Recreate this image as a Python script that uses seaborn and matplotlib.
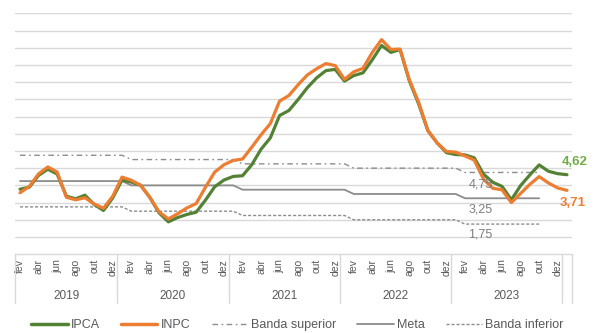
import numpy as np
import pandas as pd
import matplotlib
matplotlib.use("Agg")
import matplotlib.pyplot as plt
import matplotlib.transforms as mtransforms
from matplotlib.lines import Line2D
import seaborn as sns

# IPCA and INPC, 12-month accumulated change (%), monthly points
ipca = [3.78, 3.89, 4.58, 4.94, 4.66, 3.37, 3.22, 3.43, 2.89, 2.54, 3.27, 4.31,
        4.19, 4.01, 3.30, 2.40, 1.88, 2.13, 2.31, 2.44, 3.14, 3.92, 4.31, 4.52,
        4.56, 5.20, 6.10, 6.76, 8.06, 8.35, 8.99, 9.68, 10.25, 10.67, 10.74, 10.06,
        10.38, 10.54, 11.30, 12.13, 11.73, 11.89, 10.07, 8.73, 7.17, 6.47, 5.90, 5.79,
        5.77, 5.60, 4.65, 4.18, 3.94, 3.16, 3.99, 4.61, 5.19, 4.82, 4.68, 4.62]
inpc = [3.57, 3.94, 4.67, 5.07, 4.78, 3.31, 3.16, 3.28, 2.92, 2.67, 3.37, 4.48,
        4.30, 4.01, 3.31, 2.46, 2.05, 2.35, 2.69, 2.94, 3.89, 4.77, 5.20, 5.45,
        5.53, 6.22, 6.94, 7.59, 8.90, 9.22, 9.85, 10.42, 10.78, 11.08, 10.96, 10.16,
        10.60, 10.80, 11.73, 12.47, 11.90, 11.92, 10.12, 8.83, 7.19, 6.46, 5.97, 5.93,
        5.71, 5.47, 4.36, 3.83, 3.74, 3.00, 3.53, 4.06, 4.51, 4.14, 3.85, 3.71]

# inflation target and tolerance bands by year
meta_anual = [4.25, 4.00, 3.75, 3.50, 3.25]
banda_sup_anual = [5.75, 5.50, 5.25, 5.00, 4.75]
banda_inf_anual = [2.75, 2.50, 2.25, 2.00, 1.75]
meses_meta = [12, 12, 12, 12, 9]

# category axis: month names and year groups
meses = ["jan", "fev", "mar", "abr", "mai", "jun",
         "jul", "ago", "set", "out", "nov", "dez"]
rotulos = [meses[(i + 1) % 12] for i in range(len(ipca))]
anos = ["2019", "2020", "2021", "2022", "2023", ""]
meses_por_grupo = [11, 12, 12, 12, 12, 1]

VERDE = "#548235"
VERDE_CLARO = "#70AD47"
LARANJA = "#ED7D31"
CINZA = "#8C8C8C"
CINZA_TXT = "#595959"
GRADE = "#D9D9D9"

sns.set_theme(style="white")
plt.rcParams["font.family"] = ["Liberation Sans", "DejaVu Sans"]

n = len(ipca)
df = pd.DataFrame({"idx": np.arange(n), "IPCA": ipca, "INPC": inpc})
n_meta = sum(meses_meta)
dm = pd.DataFrame({
    "idx": np.arange(n_meta),
    "Meta": np.repeat(meta_anual, meses_meta),
    "Sup": np.repeat(banda_sup_anual, meses_meta),
    "Inf": np.repeat(banda_inf_anual, meses_meta),
})

fig = plt.figure(figsize=(5.95, 3.33), dpi=100)
ax = fig.add_axes([15.4 / 595, 1 - 254.2 / 333, 556.2 / 595, 240.9 / 333])

ls_sup = (0, (4, 2.5, 1.2, 2.5))
ls_inf = (0, (2.2, 1.4))

sns.lineplot(data=dm, x="idx", y="Sup", ax=ax, color=CINZA, lw=1.0, linestyle=ls_sup)
sns.lineplot(data=dm, x="idx", y="Inf", ax=ax, color=CINZA, lw=1.0, linestyle=ls_inf)
sns.lineplot(data=dm, x="idx", y="Meta", ax=ax, color=CINZA, lw=1.3)
sns.lineplot(data=df, x="idx", y="IPCA", ax=ax, color=VERDE, lw=2.3)
sns.lineplot(data=df, x="idx", y="INPC", ax=ax, color=LARANJA, lw=2.3)

ax.set_xlim(-0.5, n - 0.5)
ax.set_ylim(0, 14)
ax.set_xlabel("")
ax.set_ylabel("")

# horizontal grid
ax.set_yticks(range(1, 15))
ax.yaxis.grid(True, color=GRADE, lw=1)
ax.xaxis.grid(False)
ax.set_axisbelow(True)
ax.tick_params(axis="y", length=0, labelleft=False)

for s in ["top", "right", "left"]:
    ax.spines[s].set_visible(False)
ax.spines["bottom"].set_color(GRADE)
ax.spines["bottom"].set_linewidth(1)

# month labels every other category
pos = list(range(0, n, 2))
ax.set_xticks(pos)
ax.set_xticklabels([rotulos[i] for i in pos], rotation=90, fontsize=7.5,
                   color=CINZA_TXT)
ax.tick_params(axis="x", length=0, pad=3.5)

# year groups of the category axis
trans = mtransforms.blended_transform_factory(ax.transData, ax.transAxes)
fim = np.cumsum(meses_por_grupo)
inicio = fim - np.array(meses_por_grupo)
for b in np.concatenate([[-0.5], fim - 0.5]):
    ax.add_line(Line2D([b, b], [0, -0.203], transform=trans, color=GRADE,
                       lw=1, clip_on=False))
for ano, a, f in zip(anos, inicio, fim):
    if ano:
        ax.text((a + f - 1) / 2, -0.1735, ano, transform=trans, ha="center",
                va="center", fontsize=8.5, color=CINZA_TXT)

# end-of-series values
def fmt(v):
    return f"{v:.2f}".replace(".", ",")

ax.annotate(fmt(ipca[-1]), xy=(n - 1, ipca[-1]), xytext=(7.5, 12.8),
            textcoords="offset pixels", ha="center", va="center",
            fontsize=9.5, fontweight="bold", color=VERDE_CLARO,
            annotation_clip=False)
ax.annotate(fmt(inpc[-1]), xy=(n - 1, inpc[-1]), xytext=(5.5, -12.3),
            textcoords="offset pixels", ha="center", va="center",
            fontsize=9.5, fontweight="bold", color=LARANJA,
            annotation_clip=False)

# 2023 target and band values
i_lab = 50
for vals, dy in [(dm["Sup"], -12.5), (dm["Meta"], -11.7), (dm["Inf"], -10.0)]:
    v = vals.iloc[i_lab]
    ax.annotate(fmt(v), xy=(i_lab, v), xytext=(-3, dy),
                textcoords="offset pixels", ha="center", va="center",
                fontsize=9, color="#7F7F7F")

handles = [
    Line2D([], [], color=VERDE, lw=2.5),
    Line2D([], [], color=LARANJA, lw=2.5),
    Line2D([], [], color=CINZA, lw=1.0, linestyle=ls_sup),
    Line2D([], [], color=CINZA, lw=1.3),
    Line2D([], [], color=CINZA, lw=1.0, linestyle=ls_inf),
]
labels = ["IPCA", "INPC", "Banda superior", "Meta", "Banda inferior"]
fig.legend(handles, labels, loc="center", bbox_to_anchor=(0.5, 1 - 325 / 333),
           ncol=5, frameon=False, fontsize=9, handlelength=2.9,
           handletextpad=0.25, columnspacing=1.7, labelcolor=CINZA_TXT)

fig.savefig("out.png", dpi=100)
